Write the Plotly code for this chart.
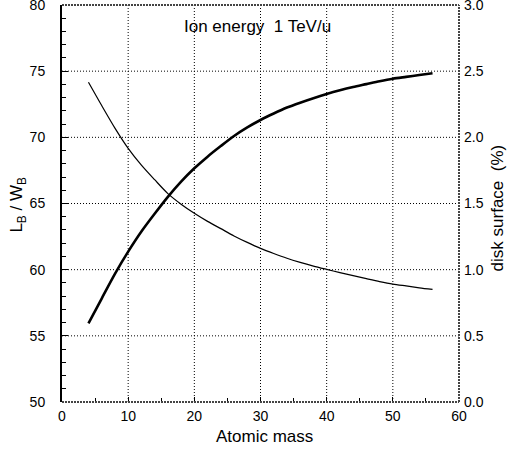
import plotly.graph_objects as go

# Atomic mass of the ion species
atomic_mass = [4, 6, 8, 10, 12, 14, 16, 18, 20, 22, 24, 26, 28, 30, 32, 34,
               36, 38, 40, 42, 44, 46, 48, 50, 52, 54, 56]

# Ratio L_B / W_B (left axis, thick curve)
lb_over_wb = [55.94, 57.82, 59.68, 61.36, 62.88, 64.22, 65.50, 66.65, 67.66,
              68.54, 69.34, 70.10, 70.75, 71.31, 71.80, 72.25, 72.62, 72.96,
              73.27, 73.55, 73.80, 74.02, 74.24, 74.43, 74.57, 74.71, 74.84]

# Disk surface in percent (right axis, thin curve)
disk_surface = [2.416, 2.240, 2.070, 1.917, 1.790, 1.680, 1.575, 1.495, 1.426,
                1.365, 1.310, 1.255, 1.206, 1.161, 1.122, 1.086, 1.055, 1.027,
                1.002, 0.978, 0.955, 0.932, 0.910, 0.891, 0.877, 0.863, 0.851]

x_ticks = [0, 10, 20, 30, 40, 50, 60]
left_ticks = [50, 55, 60, 65, 70, 75, 80]
right_ticks = [0.0, 0.5, 1.0, 1.5, 2.0, 2.5, 3.0]

# Interior grid positions (dotted lines)
x_grid = [10, 20, 30, 40, 50]
y_grid = [55, 60, 65, 70, 75]

FONT = "Liberation Sans, Arial, sans-serif"

fig = go.Figure()

# Dotted grid
grid_line = dict(color="black", width=1, dash="1px,2px")
for gx in x_grid:
    fig.add_shape(type="line", xref="x", yref="paper", x0=gx, x1=gx, y0=0, y1=1,
                  line=grid_line, layer="below")
for gy in y_grid:
    fig.add_shape(type="line", xref="paper", yref="y", x0=0, x1=1, y0=gy, y1=gy,
                  line=grid_line, layer="below")

fig.add_trace(go.Scatter(
    x=atomic_mass, y=lb_over_wb, mode="lines",
    line=dict(color="black", width=2.6, shape="spline", smoothing=0.8),
    yaxis="y", showlegend=False, hoverinfo="skip",
))
fig.add_trace(go.Scatter(
    x=atomic_mass, y=disk_surface, mode="lines",
    line=dict(color="black", width=1.2, shape="spline", smoothing=0.8),
    yaxis="y2", showlegend=False, hoverinfo="skip",
))

fig.update_layout(
    width=510, height=450,
    margin=dict(l=62, r=51, t=5, b=48, autoexpand=False),
    paper_bgcolor="white", plot_bgcolor="white",
    font=dict(family=FONT, size=14, color="black"),
    xaxis=dict(
        range=[0, 60], tickvals=x_ticks, ticks="inside", ticklen=5,
        tickwidth=1, tickcolor="black",
        minor=dict(dtick=5, ticks="inside", ticklen=4, tickcolor="black",
                   showgrid=False),
        showgrid=False, zeroline=False, showline=False, ticklabelstandoff=4,
        ticklabeloverflow="allow", automargin=False, tickfont=dict(size=14),
    ),
    yaxis=dict(
        range=[50, 80], tickvals=left_ticks, ticks="inside", ticklen=6,
        tickwidth=1, tickcolor="black",
        minor=dict(dtick=1, ticks="inside", ticklen=4, tickcolor="black",
                   showgrid=False),
        showgrid=False, zeroline=False, showline=True, linecolor="black",
        linewidth=2, ticklabelstandoff=12, ticklabeloverflow="allow",
        automargin=False, tickfont=dict(size=14),
    ),
    yaxis2=dict(
        range=[0, 3], tickvals=right_ticks, tickformat=".1f",
        overlaying="y", side="right", ticks="", showgrid=False,
        zeroline=False, showline=False, ticklabelstandoff=4,
        ticklabeloverflow="allow", automargin=False, tickfont=dict(size=14),
    ),
)

# Frame on the bottom, top and right sides
frame = dict(color="#444", width=2, dash="2px,1px")
fig.add_shape(type="line", xref="paper", yref="paper", x0=0, x1=1, y0=0, y1=0,
              line=frame)
fig.add_shape(type="line", xref="paper", yref="paper", x0=0, x1=1, y0=1, y1=1,
              line=frame)
fig.add_shape(type="line", xref="paper", yref="paper", x0=1, x1=1, y0=0, y1=1,
              line=frame)

# Axis titles and the energy label
fig.add_annotation(text="Atomic mass", xref="paper", yref="paper",
                   x=0.51, y=-0.088, xanchor="center", yanchor="middle",
                   showarrow=False, font=dict(size=17))
fig.add_annotation(text="L<sub>B</sub> / W<sub>B</sub>", xref="paper", yref="paper",
                   x=-0.111, y=0.497, xanchor="center", yanchor="middle",
                   textangle=-90, showarrow=False, font=dict(size=17))
fig.add_annotation(text="disk surface  (%)", xref="paper", yref="paper",
                   x=1.098, y=0.49, xanchor="center", yanchor="middle",
                   textangle=-90, showarrow=False, font=dict(size=17))
fig.add_annotation(text="Ion energy  1 TeV/u", xref="paper", yref="paper",
                   x=0.492, y=0.945, xanchor="center", yanchor="middle",
                   showarrow=False, font=dict(size=17))

fig.write_html("out.html")
